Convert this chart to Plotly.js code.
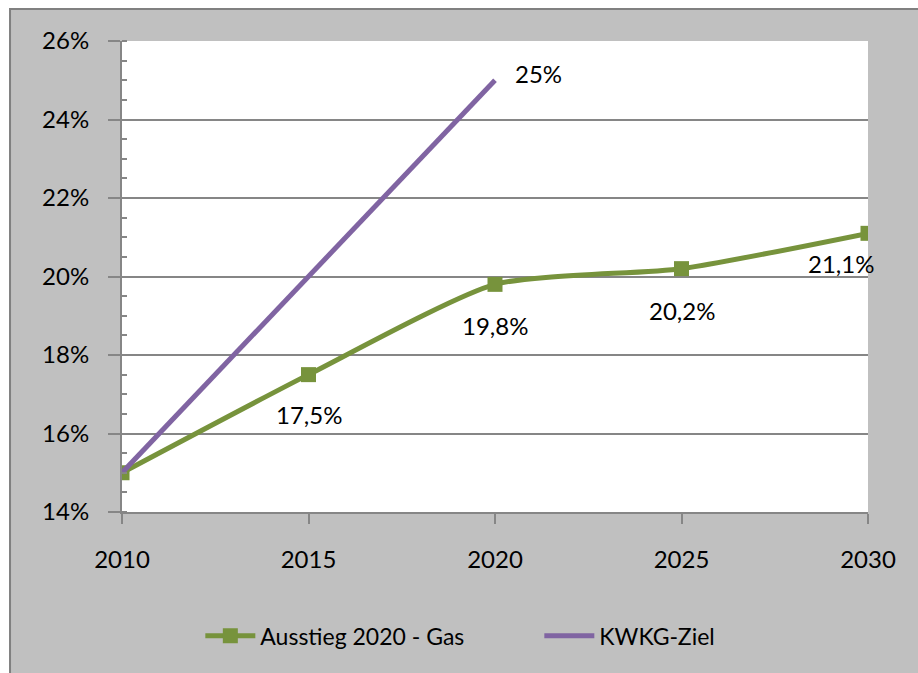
<!DOCTYPE html>
<html>
<head>
<meta charset="utf-8">
<script src="https://cdn.plot.ly/plotly-3.0.1.min.js"></script>
<style>html,body{margin:0;padding:0;background:#fff;}#chart{width:918px;height:673px;}</style>
</head>
<body>
<div id="chart"></div>
<script>
var years = [2010, 2015, 2020, 2025, 2030];
var gasValues = [0.15, 0.175, 0.198, 0.202, 0.211];
var gasLabels = ['', '17,5%', '19,8%', '20,2%', '21,1%'];
var zielYears = [2010, 2020];
var zielValues = [0.15, 0.25];
var zielLabels = ['', '25%'];
var seriesNames = ['Ausstieg 2020 - Gas', 'KWKG-Ziel'];

var FONT = 'Lato, "Open Sans", sans-serif';
var FS = 24, LFS = 23;
var green = '#77933C', purple = '#8064A2';

var traces = [
  {x: years, y: gasValues, name: seriesNames[0], type: 'scatter', mode: 'lines+markers',
   line: {color: green, width: 5, shape: 'spline', smoothing: 0.6},
   marker: {symbol: 'square', size: 15, color: green}},
  {x: zielYears, y: zielValues, name: seriesNames[1], type: 'scatter', mode: 'lines',
   line: {color: purple, width: 5}}
];

var gasShift = [[0,0],[0,-40],[0,-41],[0,-42],[-27,-30]];
var zielShift = [[0,0],[43,7]];
var annotations = [];
years.forEach(function(yr, i){
  if (gasLabels[i]) annotations.push({x: yr, y: gasValues[i], text: gasLabels[i], showarrow: false,
    xshift: gasShift[i][0], yshift: gasShift[i][1], font: {family: FONT, size: FS, color: '#000'}});
});
zielYears.forEach(function(yr, i){
  if (zielLabels[i]) annotations.push({x: yr, y: zielValues[i], text: zielLabels[i], showarrow: false,
    xshift: zielShift[i][0], yshift: zielShift[i][1], font: {family: FONT, size: FS, color: '#000'}});
});

var layout = {
  width: 918, height: 673,
  margin: {l: 122, r: 50, t: 41, b: 161, autoexpand: false},
  paper_bgcolor: '#ffffff', plot_bgcolor: '#ffffff',
  font: {family: FONT, size: FS, color: '#000'},
  showlegend: true,
  legend: {orientation: 'h', x: 0.105, xanchor: 'left', y: -0.263, yanchor: 'middle',
           entrywidth: 274, entrywidthmode: 'pixels',
           font: {family: FONT, size: LFS, color: '#000'}, bgcolor: 'rgba(0,0,0,0)', itemwidth: 50},
  xaxis: {range: [2010, 2030], dtick: 5, tick0: 2010, showgrid: false, zeroline: false,
          showline: true, linecolor: '#868686', linewidth: 2,
          ticks: 'outside', ticklen: 10, tickwidth: 2, tickcolor: '#868686', ticklabelstandoff: 15,
          tickfont: {family: FONT, size: FS, color: '#000'}},
  yaxis: {range: [0.14, 0.26], dtick: 0.02, tickformat: '.0%', showgrid: true, gridcolor: '#868686', gridwidth: 2,
          zeroline: false, showline: true, linecolor: '#868686', linewidth: 2,
          ticks: 'outside', ticklen: 12, tickwidth: 2, tickcolor: '#868686', ticklabelstandoff: 14,
          minor: {dtick: 0.005, ticks: 'inside', ticklen: 5, tickwidth: 2, tickcolor: '#868686', showgrid: false},
          tickfont: {family: FONT, size: FS, color: '#000'}},
  shapes: [
    {type: 'rect', xref: 'paper', yref: 'paper', x0: -0.1501, x1: 1.1, y0: -0.40, y1: 1.068,
     fillcolor: '#C0C0C0', line: {color: '#808080', width: 2}, layer: 'below'},
    {type: 'rect', xref: 'paper', yref: 'paper', x0: 0, x1: 1, y0: 0, y1: 1,
     fillcolor: '#ffffff', line: {width: 0}, layer: 'below'}
  ],
  annotations: annotations
};

Plotly.newPlot('chart', traces, layout, {displayModeBar: false, staticPlot: true});
</script>
</body>
</html>
